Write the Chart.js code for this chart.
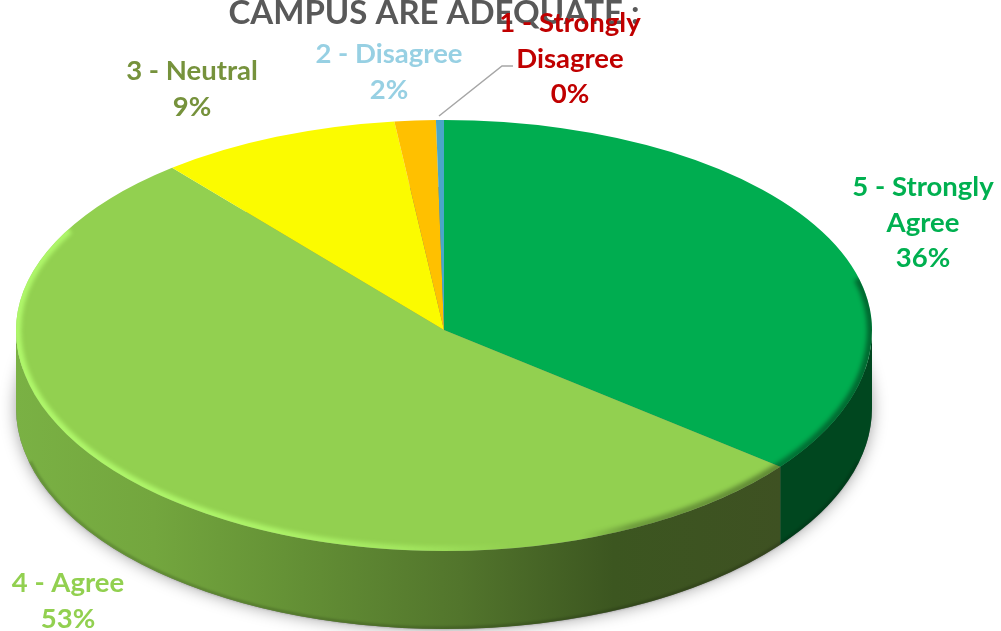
<!DOCTYPE html>
<html>
<head>
<meta charset="utf-8">
<title>Campus are adequate</title>
<style>
  html, body { margin: 0; padding: 0; background: #fff; overflow: hidden; }
  canvas { display: block; }
</style>
<script src="https://cdn.jsdelivr.net/npm/chart.js@4"></script>
</head>
<body>
<canvas id="chart" width="1001" height="631"></canvas>
<script>
// values
const categories = ['5 - Strongly Agree', '4 - Agree', '3 - Neutral', '2 - Disagree', '1 - Strongly Disagree'];
const shares = [35.6, 53.4, 9.1, 1.55, 0.3];
const chartTitle = 'CAMPUS ARE ADEQUATE :';

const faceColors = ['#00AD50', '#92D050', '#FBFB00', '#FFC000', '#4AA6C8'];
const textColors = ['#00B050', '#92D050', '#76923C', '#97D0E3', '#C00000'];
const labelCenters = [[923, 186], [68, 582], [192, 70], [389, 53], [570, 22]];

// pie is squashed to fake the 3D look, the near half a bit more open than the far half
const center = { x: 444, y: 330 };
const radius = 428;
const farSquash = 210 / radius;
const nearSquash = 221 / radius;
const depth = 78;
const labelFont = 'bold 27.5px Lato';
const lineGap = 35.8;

function sideFill(ctx, i) {
  if (i !== 1) return '#00471F';
  const g = ctx.createLinearGradient(16, 0, 782, 0);
  g.addColorStop(0, '#7AB144');
  g.addColorStop(0.18, '#73A63E');
  g.addColorStop(0.35, '#659236');
  g.addColorStop(0.58, '#52752C');
  g.addColorStop(0.78, '#3C5620');
  g.addColorStop(1, '#3E5122');
  return g;
}

// clip to one half of the picture and flatten the pie for it
function enterHalf(chart, near) {
  const ctx = chart.ctx;
  const arc = chart.getDatasetMeta(0).data[0];
  ctx.save();
  ctx.beginPath();
  if (near) ctx.rect(0, center.y, chart.width, chart.height - center.y);
  else ctx.rect(0, 0, chart.width, center.y);
  ctx.clip();
  ctx.translate(center.x, center.y);
  ctx.scale(1, near ? nearSquash : farSquash);
  ctx.translate(-arc.x, -arc.y);
}

const pie3d = {
  id: 'pie3d',
  beforeDatasetsDraw(chart) {
    const ctx = chart.ctx;
    const arcs = chart.getDatasetMeta(0).data;
    const ry = radius * nearSquash;

    // soft shadow under the disc
    ctx.save();
    ctx.shadowColor = 'rgba(0,0,0,0.38)';
    ctx.shadowBlur = 16;
    ctx.fillStyle = '#777';
    ctx.beginPath();
    ctx.ellipse(center.x, center.y + depth, radius, ry, 0, 0, Math.PI * 2);
    ctx.fill();
    ctx.restore();

    // body of the disc, only the front half can be seen
    arcs.forEach((arc, i) => {
      const s = Math.max(arc.startAngle, 0);
      const e = Math.min(arc.endAngle, Math.PI);
      if (e <= s) return;
      ctx.beginPath();
      ctx.ellipse(center.x, center.y, radius, ry, 0, s, e);
      ctx.ellipse(center.x, center.y + depth, radius, ry, 0, e, s, true);
      ctx.closePath();
      ctx.fillStyle = sideFill(ctx, i);
      ctx.fill();
    });

    enterHalf(chart, false);
  },
  afterDatasetsDraw(chart) {
    const ctx = chart.ctx;
    ctx.restore();

    // second pass for the near half
    enterHalf(chart, true);
    chart.getDatasetMeta(0).controller.draw();
    ctx.restore();

    const far = radius * farSquash;
    const near = radius * nearSquash;

    // bevel around the edge of the top face
    ctx.save();
    ctx.beginPath();
    ctx.ellipse(center.x, center.y, radius, far, 0, Math.PI, Math.PI * 2);
    ctx.ellipse(center.x, center.y, radius, near, 0, 0, Math.PI);
    ctx.clip();
    const g = ctx.createLinearGradient(16, 0, 872, 0);
    g.addColorStop(0, 'rgba(181,255,112,0.85)');
    g.addColorStop(0.3, 'rgba(181,255,112,0.75)');
    g.addColorStop(0.45, 'rgba(181,255,112,0.5)');
    g.addColorStop(0.58, 'rgba(181,255,112,0)');
    g.addColorStop(0.66, 'rgba(0,0,0,0)');
    g.addColorStop(0.72, 'rgba(0,0,0,0.25)');
    g.addColorStop(1, 'rgba(0,0,0,0.4)');
    ctx.filter = 'blur(2px)';
    ctx.strokeStyle = g;
    ctx.lineWidth = 8;
    ctx.beginPath();
    ctx.ellipse(center.x, center.y, radius - 1, far - 1, 0, -0.25, 0);
    ctx.ellipse(center.x, center.y, radius - 1, near - 1, 0, 0, Math.PI);
    ctx.ellipse(center.x, center.y, radius - 1, far - 1, 0, Math.PI, Math.PI + 0.5);
    ctx.stroke();
    ctx.restore();

    // darker line on the bottom edge of the body
    ctx.save();
    ctx.filter = 'blur(1px)';
    ctx.strokeStyle = 'rgba(0,0,0,0.18)';
    ctx.lineWidth = 3;
    ctx.beginPath();
    ctx.ellipse(center.x, center.y + depth - 1, radius - 1, near, 0, 0.25, Math.PI - 0.25);
    ctx.stroke();
    ctx.restore();
  },
  afterDraw(chart) {
    const ctx = chart.ctx;
    const total = shares.reduce((a, b) => a + b, 0);

    // leader line for the smallest slice
    ctx.save();
    ctx.strokeStyle = '#A6A6A6';
    ctx.lineWidth = 1.5;
    ctx.beginPath();
    ctx.moveTo(439, 116);
    ctx.lineTo(502, 66);
    ctx.lineTo(513, 66);
    ctx.stroke();

    ctx.font = labelFont;
    ctx.textAlign = 'center';
    ctx.textBaseline = 'middle';
    categories.forEach((name, i) => {
      const lines = name.replace('Strongly ', 'Strongly\n').split('\n');
      lines.push(Math.round(shares[i] / total * 100) + '%');
      ctx.fillStyle = textColors[i];
      lines.forEach((line, n) => {
        ctx.fillText(line, labelCenters[i][0], labelCenters[i][1] + 1 + n * lineGap);
      });
    });
    ctx.restore();
  }
};

new Chart(document.getElementById('chart'), {
  type: 'pie',
  data: {
    labels: categories,
    datasets: [{
      data: shares,
      backgroundColor: faceColors,
      borderWidth: 0,
      radius: radius,
      clip: false
    }]
  },
  options: {
    responsive: false,
    animation: false,
    events: [],
    layout: { padding: { right: 133 } },
    plugins: {
      legend: { display: false },
      tooltip: { enabled: false },
      title: {
        display: true,
        text: chartTitle,
        color: '#595959',
        font: { family: 'Lato', size: 33, weight: 'bold' },
        padding: { top: -6, bottom: 0 }
      }
    }
  },
  plugins: [pie3d]
});
</script>
</body>
</html>
